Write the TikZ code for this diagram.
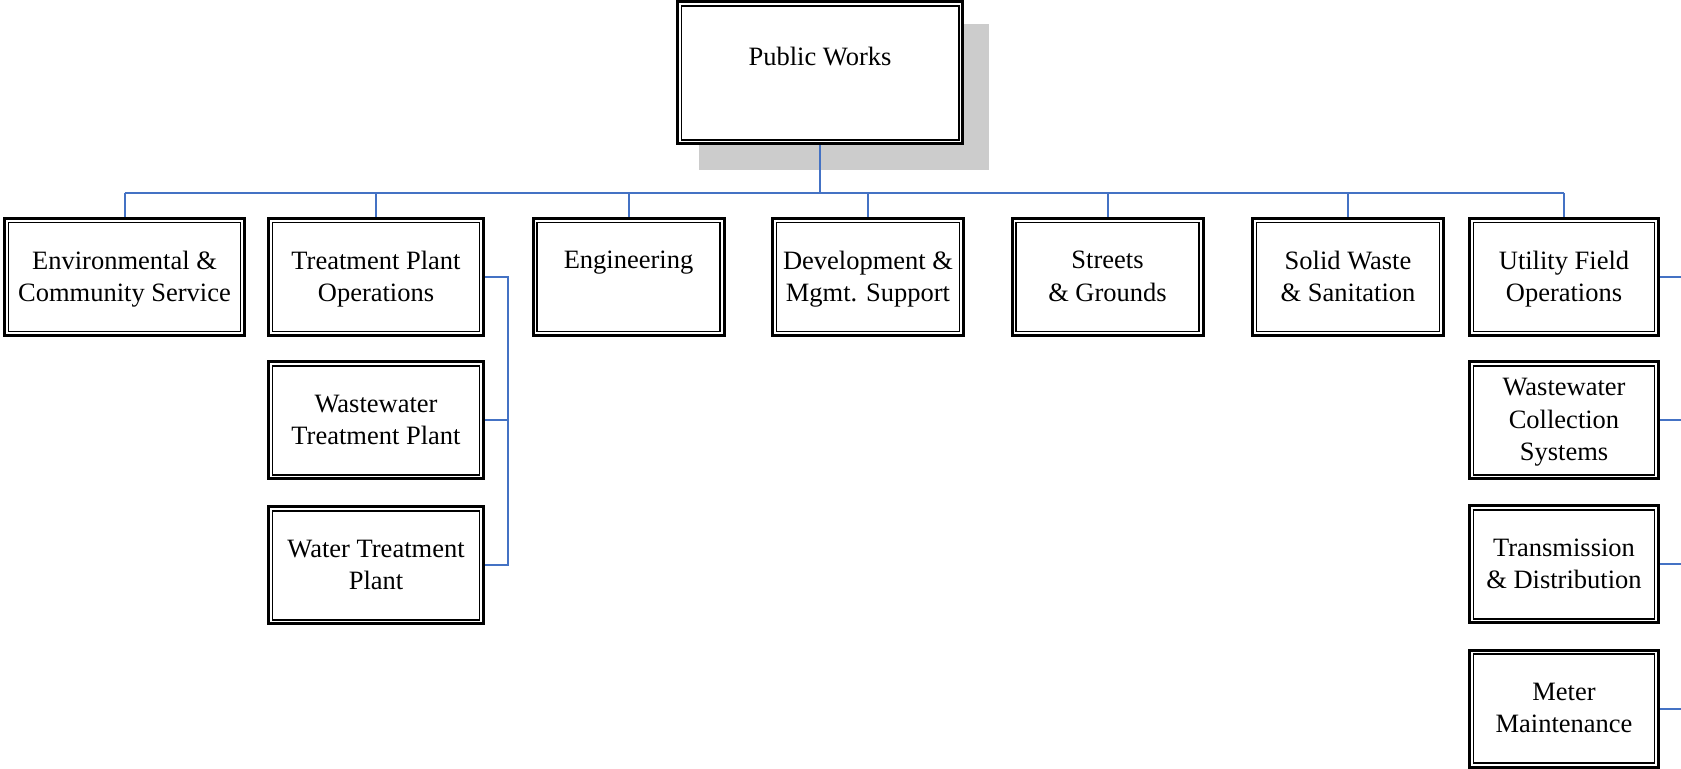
\documentclass[tikz,border=0pt]{standalone}
\usepackage{fontspec}
\setmainfont{Liberation Serif}
\usepackage{tikz}
\usetikzlibrary{positioning, calc, shadows}
\definecolor{pwblue}{HTML}{4472C4}
\definecolor{pwshadow}{HTML}{CCCCCC}

\begin{document}
\begin{tikzpicture}[x=0.5pt, y=-0.5pt,
    unitbox/.style={draw, line width=1.5pt, fill=white, align=center, inner sep=0pt,
      minimum height=58.5pt, minimum width=95.5pt, text depth=0.8pt,
      font=\fontsize{13.25}{16.25}\selectfont,
      path picture={\draw[line width=0.7pt] ([shift={(2pt,2pt)}]path picture bounding box.south west) rectangle ([shift={(-2pt,-2pt)}]path picture bounding box.north east);}},
    link/.style={pwblue, line width=1pt}
  ]
    \useasboundingbox (0,0) rectangle (1681,769);
    \node[unitbox, minimum width=142.8pt, minimum height=71pt,
      drop shadow={shadow xshift=12pt, shadow yshift=-12pt, fill=pwshadow, draw=pwshadow, line width=2pt, opacity=1}] (pw) at (820,73) {Public Works\\\mbox{}};
    \node[unitbox, minimum width=120pt] (ecs) at (124.5,277) {Environmental \&\\Community Service};
    \node[unitbox, minimum width=107.5pt] (tpo) at (376,277) {Treatment Plant\\Operations};
    \node[unitbox] (eng) at (628.5,277) {Engineering\\\mbox{}};
    \node[unitbox] (dms) at (868,277) {Development \&\\Mgmt. Support};
    \node[unitbox] (sg) at (1107.5,277) {Streets\\\& Grounds};
    \node[unitbox] (sws) at (1348,277) {Solid Waste\\\& Sanitation};
    \node[unitbox, minimum width=94.5pt] (ufo) at (1564,277) {Utility Field\\Operations};
    \node[unitbox, minimum width=107.5pt] (wwtp) at (376,420.5) {Wastewater\\Treatment Plant};
    \node[unitbox, minimum width=107.5pt] (wtp) at (376,565.5) {Water Treatment\\Plant};
    \node[unitbox, minimum width=94.5pt] (wcs) at (1564,420.5) {Wastewater\\Collection\\Systems};
    \node[unitbox, minimum width=94.5pt] (td) at (1564,564.5) {Transmission\\\& Distribution};
    \node[unitbox, minimum width=94.5pt] (mm) at (1564,708.5) {Meter\\Maintenance};
    % top bus
    \coordinate (bus) at (820,193);
    \draw[link] (pw.south) -- (bus);
    \draw[link] (ecs.north |- bus) -- (ufo.north |- bus);
    \foreach \n in {ecs,tpo,eng,dms,sg,sws,ufo}
      \draw[link] (\n.north |- bus) -- (\n.north);
    % plant side
    \coordinate (tbus) at (508,277);
    \draw[link] (tpo.east) -- (tbus) |- (wtp.east);
    \draw[link] (wwtp.east) -- (wwtp.east -| tbus);
    % field side
    \coordinate (ubus) at (1692,277);
    \draw[link] (ufo.east) -- (ubus) |- (mm.east);
    \draw[link] (wcs.east) -- (wcs.east -| ubus);
    \draw[link] (td.east) -- (td.east -| ubus);
  \end{tikzpicture}
\end{document}
